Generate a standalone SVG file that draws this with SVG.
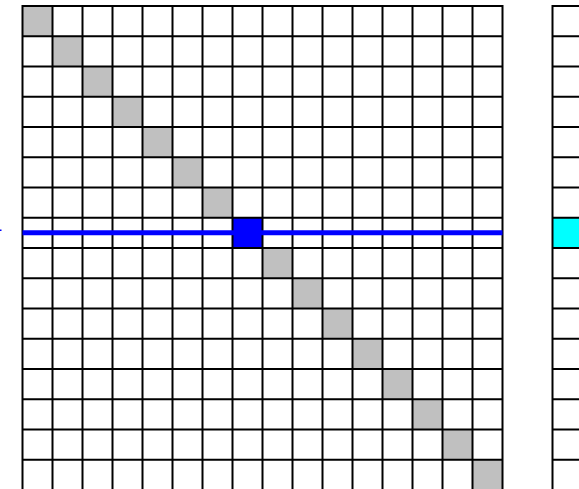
<svg xmlns="http://www.w3.org/2000/svg" width="579" height="489" viewBox="0 0 579 489">
<style>
.diag{fill:#c0c0c0}
.grid{stroke:#000;stroke-width:2;fill:none}
.row{stroke:#0000ff;stroke-width:5}
</style>
<rect width="579" height="489" fill="#fff"/>
<g id="left-matrix">
<g id="diagonal">
<rect class="diag" x="22.5" y="6" width="30" height="30.25"/>
<rect class="diag" x="52.5" y="36.25" width="30" height="30.25"/>
<rect class="diag" x="82.5" y="66.5" width="30" height="30.25"/>
<rect class="diag" x="112.5" y="96.75" width="30" height="30.25"/>
<rect class="diag" x="142.5" y="127" width="30" height="30.25"/>
<rect class="diag" x="172.5" y="157.25" width="30" height="30.25"/>
<rect class="diag" x="202.5" y="187.5" width="30" height="30.25"/>
<rect id="pivot" x="232.5" y="217.75" width="30" height="30.25" fill="#0000ff"/>
<rect class="diag" x="262.5" y="248" width="30" height="30.25"/>
<rect class="diag" x="292.5" y="278.25" width="30" height="30.25"/>
<rect class="diag" x="322.5" y="308.5" width="30" height="30.25"/>
<rect class="diag" x="352.5" y="338.75" width="30" height="30.25"/>
<rect class="diag" x="382.5" y="369" width="30" height="30.25"/>
<rect class="diag" x="412.5" y="399.25" width="30" height="30.25"/>
<rect class="diag" x="442.5" y="429.5" width="30" height="30.25"/>
<rect class="diag" x="472.5" y="459.75" width="30" height="30.25"/>
</g>
<path class="grid" d="M22.5 6V490M52.5 6V490M82.5 6V490M112.5 6V490M142.5 6V490M172.5 6V490M202.5 6V490M232.5 6V490M262.5 6V490M292.5 6V490M322.5 6V490M352.5 6V490M382.5 6V490M412.5 6V490M442.5 6V490M472.5 6V490M502.5 6V490
M21.5 6H503.5M21.5 36.25H503.5M21.5 66.5H503.5M21.5 96.75H503.5M21.5 127H503.5M21.5 157.25H503.5M21.5 187.5H503.5M21.5 217.75H503.5M21.5 248H503.5M21.5 278.25H503.5M21.5 308.5H503.5M21.5 338.75H503.5M21.5 369H503.5M21.5 399.25H503.5M21.5 429.5H503.5M21.5 459.75H503.5"/>
</g>
<g id="right-matrix">
<rect id="cyan-cell" x="552.5" y="217.75" width="30" height="30.25" fill="#00ffff"/>
<path class="grid" d="M552.5 6V490M582.5 6V490
M551.5 6H580M551.5 36.25H580M551.5 66.5H580M551.5 96.75H580M551.5 127H580M551.5 157.25H580M551.5 187.5H580M551.5 217.75H580M551.5 248H580M551.5 278.25H580M551.5 308.5H580M551.5 338.75H580M551.5 369H580M551.5 399.25H580M551.5 429.5H580M551.5 459.75H580"/>
</g>
<g id="connectors">
<line class="row" x1="22.5" y1="232.75" x2="502.5" y2="232.75"/>
<rect x="0" y="229.5" width="1.5" height="1.5" fill="#0000ff"/>
</g>
</svg>
